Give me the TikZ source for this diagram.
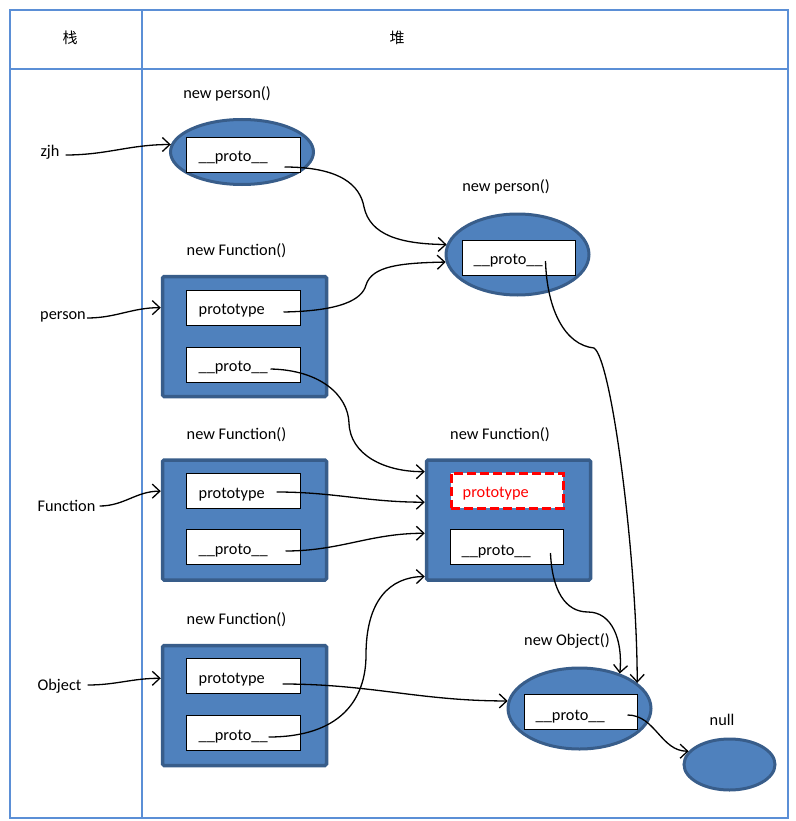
\documentclass[tikz,border=0pt]{standalone}
\usepackage{fontspec}
\setmainfont{Carlito}
\newfontfamily\cjk{Noto Sans CJK SC}
\usetikzlibrary{arrows.meta,shapes.geometric}

\definecolor{objfill}{RGB}{79,129,189}
\definecolor{objline}{RGB}{56,93,138}
\definecolor{gridline}{RGB}{91,143,214}
\definecolor{hot}{RGB}{255,0,0}

\tikzset{
  txt/.style={font=\fontsize{16.3}{19}\selectfont, inner sep=0pt},
  headtxt/.style={font=\cjk\fontsize{15}{18}\selectfont, inner sep=0pt},
  objell/.style={ellipse, draw=objline, line width=3pt, fill=objfill, inner sep=0pt},
  fnbox/.style={rectangle, draw=objline, line width=3.5pt, fill=objfill,
    rounded corners=1.5pt, minimum width=164, minimum height=120, inner sep=0pt},
  slot/.style={rectangle, draw=black, line width=1pt, fill=white,
    minimum width=114, minimum height=35, inner sep=0pt},
  hotslot/.style={rectangle, draw=hot, line width=3pt, dash pattern=on 9pt off 4pt,
    fill=white, minimum width=112, minimum height=35, inner sep=0pt},
  slottxt/.style={txt, anchor=base west},
  link/.style={draw, line width=1.3pt, -{Straight Barb[length=7.5pt,width=14pt]}},
}

\begin{document}
\begin{tikzpicture}[x=1pt,y=-1pt]
\useasboundingbox (0,0) rectangle (795,821);

% table frame: stack column and heap column
\draw[gridline, line width=1.3pt] (10,10) rectangle (788,818);
\draw[gridline, line width=1.3pt] (10,69) -- (788,69);
\draw[gridline, line width=1.3pt] (142,10) -- (142,818);
\node[headtxt] (hstack) at (70,38) {栈};
\node[headtxt] (hheap) at (397,38) {堆};

% stack variables
\node[txt] (lzjh) at (50,152) {zjh};
\node[txt] (lperson) at (63,317) {person};
\node[txt] (lfunction) at (66.5,506) {Function};
\node[txt] (lobject) at (59.5,686) {Object};

% instance created by new person()
\node[txt] (te1) at (227,94) {new person()};
\node[objell, minimum width=143, minimum height=65] (e1) at (242,152) {};
\node[slot] (e1s) at (243,155) {};
\node[slottxt] at ([xshift=13pt,yshift=-25pt]e1s.north west) {\_\_proto\_\_};

% person.prototype object
\node[txt] (te2) at (506,187) {new person()};
\node[objell, minimum width=143, minimum height=81] (e2) at (517.5,254.5) {};
\node[slot, minimum width=113] (e2s) at (518.5,257.5) {};
\node[slottxt] at ([xshift=12pt,yshift=-25pt]e2s.north west) {\_\_proto\_\_};

% function person
\node[txt] (tf1) at (236.5,251) {new Function()};
\node[fnbox] (f1) at (244.5,336.5) {};
\node[slot] (f1p) at (243,307.5) {};
\node[slottxt] at ([xshift=13pt,yshift=-25pt]f1p.north west) {prototype};
\node[slot] (f1q) at (243,364.5) {};
\node[slottxt] at ([xshift=13pt,yshift=-25pt]f1q.north west) {\_\_proto\_\_};

% function Function
\node[txt] (tf2) at (236.5,435) {new Function()};
\node[fnbox] (f2) at (244.5,520) {};
\node[slot] (f2p) at (243,491) {};
\node[slottxt] at ([xshift=13pt,yshift=-25pt]f2p.north west) {prototype};
\node[slot] (f2q) at (243,547) {};
\node[slottxt] at ([xshift=13pt,yshift=-25pt]f2q.north west) {\_\_proto\_\_};

% function Object
\node[txt] (tf4) at (236.5,620) {new Function()};
\node[fnbox] (f4) at (244.5,705.5) {};
\node[slot] (f4p) at (243,676) {};
\node[slottxt] at ([xshift=13pt,yshift=-25pt]f4p.north west) {prototype};
\node[slot] (f4q) at (243,733) {};
\node[slottxt] at ([xshift=13pt,yshift=-25pt]f4q.north west) {\_\_proto\_\_};

% Function.prototype
\node[txt] (tfm) at (500,435) {new Function()};
\node[fnbox] (fm) at (508.5,520) {};
\node[hotslot] (fmp) at (507,490.5) {};
\node[slottxt, text=hot] at ([xshift=13pt,yshift=-26pt]fmp.north west) {prototype};
\node[slot, minimum width=113] (fmq) at (506.5,547) {};
\node[slottxt] at ([xshift=12pt,yshift=-26pt]fmq.north west) {\_\_proto\_\_};

% Object.prototype
\node[txt] (tob) at (567,641) {new Object()};
\node[objell, minimum width=143, minimum height=81] (ob) at (579.5,708.5) {};
\node[slot, minimum width=113] (obs) at (580.5,712) {};
\node[slottxt] at ([xshift=12pt,yshift=-26pt]obs.north west) {\_\_proto\_\_};

% end of the chain
\node[txt] (tnull) at (722,720) {null};
\node[objell, minimum width=91, minimum height=51] (nul) at (729.5,764.5) {};

% start points of the links
\coordinate (czjh) at ([xshift=6pt,yshift=-3pt]lzjh.east);
\coordinate (cperson) at ([xshift=1pt,yshift=-1pt]lperson.east);
\coordinate (cfunction) at ([xshift=4pt,yshift=0pt]lfunction.east);
\coordinate (cobject) at ([xshift=6pt,yshift=1pt]lobject.east);
\coordinate (ce1) at ([xshift=-16pt,yshift=-12pt]e1s.east);
\coordinate (ce2) at ([xshift=-30pt,yshift=-3.5pt]e2s.east);
\coordinate (cf1p) at ([xshift=-17pt,yshift=-4.5pt]f1p.east);
\coordinate (cf1q) at ([xshift=-30pt,yshift=-4.5pt]f1q.east);
\coordinate (cf2p) at ([xshift=-24pt,yshift=-1pt]f2p.east);
\coordinate (cf2q) at ([xshift=-15pt,yshift=-4pt]f2q.east);
\coordinate (cf4p) at ([xshift=-18pt,yshift=-8pt]f4p.east);
\coordinate (cf4q) at ([xshift=-32pt,yshift=-4pt]f4q.east);
\coordinate (cfmq) at ([xshift=-13pt,yshift=-6pt]fmq.east);
\coordinate (cob) at ([xshift=-10pt,yshift=-3pt]obs.east);

% references held on the stack
\draw[link] (czjh) to[out=0,in=180] (e1.174);
\draw[link] (cperson) to[out=0,in=180] (f1.161);
\draw[link] (cfunction) to[out=0,in=180] (f2.161);
\draw[link] (cobject) to[out=0,in=180] (f4.162);

% prototype and __proto__ links
\draw[link] (ce1) .. controls (340,167) and (360,185) .. (364,207)
  .. controls (370,235) and (400,244) .. (e2.172);
\draw[link] (cf1p) .. controls (340,311) and (362,300) .. (366,285)
  .. controls (372,266) and (400,263) .. (e2.186);
\draw[link] (cf1q) .. controls (320,370) and (348,395) .. (349,423)
  .. controls (350,455) and (385,472) .. (fm.150);
\draw[link] (cf2p) to[out=0,in=180] (fm.168);
\draw[link] (cf2q) to[out=0,in=180] (fm.189);
\draw[link] (cf4q) .. controls (340,737) and (366,700) .. (366,655)
  .. controls (366,600) and (390,577) .. (fm.214);
\draw[link] (cf4p) to[out=0,in=180] (ob.174);
\draw[link] (ce2) .. controls (547,310) and (565,345) .. (594,348)
  .. controls (612,360) and (637,560) .. (ob.24);
\draw[link] (cfmq) .. controls (552,590) and (565,612) .. (588,612)
  .. controls (612,612) and (623,640) .. (ob.41);
\draw[link] (cob) to[out=0,in=180] (nul.162);
\end{tikzpicture}
\end{document}
